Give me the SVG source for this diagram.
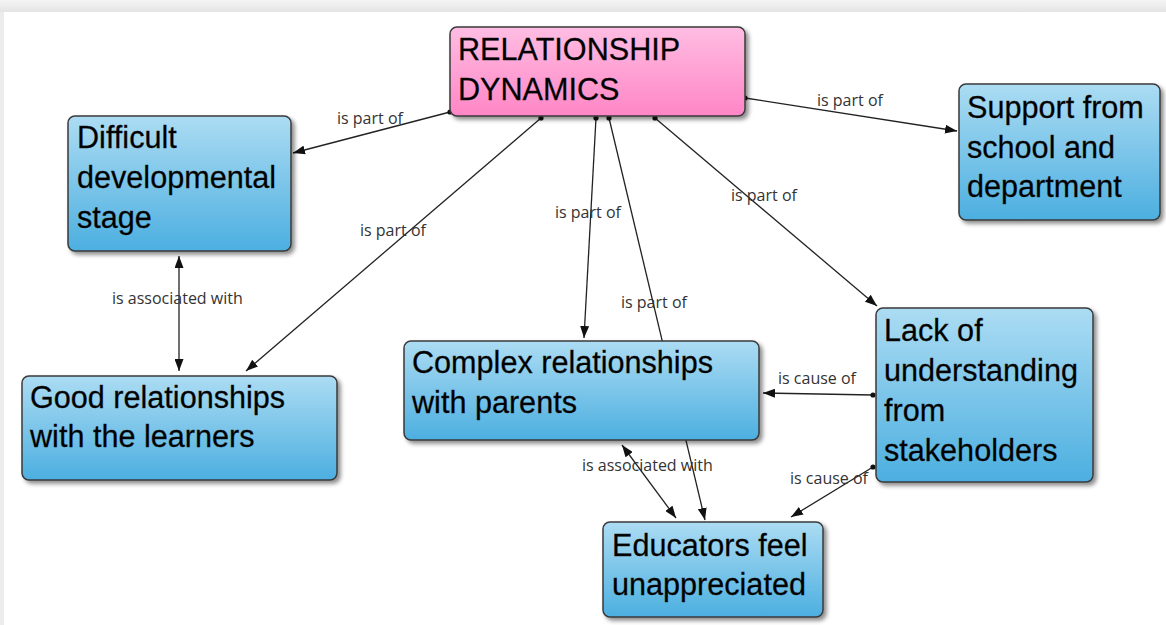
<svg xmlns="http://www.w3.org/2000/svg" width="1166" height="625" viewBox="0 0 1166 625">
  <defs>
    <linearGradient id="gBlue" x1="0" y1="0" x2="0" y2="1">
      <stop offset="0" stop-color="#acdcf3"/>
      <stop offset="1" stop-color="#4cafe0"/>
    </linearGradient>
    <linearGradient id="gPink" x1="0" y1="0" x2="0" y2="1">
      <stop offset="0" stop-color="#ffbde2"/>
      <stop offset="1" stop-color="#ff86c6"/>
    </linearGradient>
    <linearGradient id="gTop" x1="0" y1="0" x2="0" y2="1">
      <stop offset="0" stop-color="#f4f4f4"/>
      <stop offset="1" stop-color="#e4e4e4"/>
    </linearGradient>
    <filter id="shadow" x="-10%" y="-10%" width="130%" height="130%">
      <feDropShadow dx="3" dy="3" stdDeviation="2" flood-color="#000" flood-opacity="0.45"/>
    </filter>
    <marker id="arrow" viewBox="0 0 12 9" refX="12" refY="4.5" markerWidth="12" markerHeight="9" markerUnits="userSpaceOnUse" orient="auto-start-reverse">
      <path d="M0,0 L12,4.5 L0,9 z" fill="#111"/>
    </marker>
    <marker id="dot" viewBox="0 0 6 6" refX="3" refY="3" markerWidth="6" markerHeight="6" markerUnits="userSpaceOnUse">
      <circle cx="3" cy="3" r="2.6" fill="#111"/>
    </marker>
  </defs>
  <style>
    .box { stroke: #3a3a3a; stroke-width: 1.5; filter: url(#shadow); }
    .blue { fill: url(#gBlue); }
    .pink { fill: url(#gPink); }
    .txt { font-family: "Liberation Sans", Arial, sans-serif; font-size: 30.6px; fill: #000; stroke: #1a1a1a; stroke-width: 0.3; }
    .lbl { font-family: "Open Sans", "Noto Sans", sans-serif; font-size: 16px; fill: #333; }
    .edge { stroke: #222; stroke-width: 1.3; fill: none; }
    .src { marker-start: url(#dot); marker-end: url(#arrow); }
    .bi { marker-start: url(#arrow); marker-end: url(#arrow); }
  </style>

  <rect x="0" y="0" width="1166" height="625" fill="#ffffff"/>
  <rect x="0" y="0" width="1166" height="12" fill="url(#gTop)"/>
  <rect x="0" y="12" width="4" height="613" fill="#ececec"/>

  <g id="connectors">
    <line class="edge src" x1="450" y1="112" x2="293" y2="153"/>
    <line class="edge src" x1="745" y1="98" x2="957" y2="131"/>
    <line class="edge src" x1="541" y1="118" x2="246" y2="371"/>
    <line class="edge src" x1="596" y1="118" x2="584" y2="338"/>
    <line class="edge src" x1="609" y1="118" x2="705" y2="520"/>
    <line class="edge src" x1="655" y1="118" x2="877" y2="306"/>
    <line class="edge bi" x1="179" y1="256" x2="179" y2="371"/>
    <line class="edge src" x1="873" y1="395" x2="763" y2="393"/>
    <line class="edge src" x1="873" y1="467" x2="791" y2="517"/>
    <line class="edge bi" x1="622" y1="445" x2="676" y2="518"/>
    <text class="lbl" x="337" y="124">is part of</text>
    <text class="lbl" x="817" y="106">is part of</text>
    <text class="lbl" x="360" y="236">is part of</text>
    <text class="lbl" x="555" y="218">is part of</text>
    <text class="lbl" x="621" y="308">is part of</text>
    <text class="lbl" x="731" y="201">is part of</text>
    <text class="lbl" x="112" y="304">is associated with</text>
    <text class="lbl" x="778" y="384">is cause of</text>
    <text class="lbl" x="790" y="484">is cause of</text>
    <text class="lbl" x="582" y="471">is associated with</text>
  </g>

  <g id="node-relationship-dynamics">
    <rect class="box pink" x="450" y="27" width="295" height="89" rx="7"/>
    <text class="txt" x="458" y="60">RELATIONSHIP</text>
    <text class="txt" x="458" y="100">DYNAMICS</text>
  </g>
  <g id="node-difficult">
    <rect class="box blue" x="68" y="116" width="223" height="135" rx="7"/>
    <text class="txt" x="77" y="148">Difficult</text>
    <text class="txt" x="77" y="188">developmental</text>
    <text class="txt" x="77" y="228">stage</text>
  </g>
  <g id="node-support">
    <rect class="box blue" x="959" y="84" width="201" height="136" rx="7"/>
    <text class="txt" x="967" y="118">Support from</text>
    <text class="txt" x="967" y="158">school and</text>
    <text class="txt" x="967" y="197">department</text>
  </g>
  <g id="node-good">
    <rect class="box blue" x="22" y="376" width="315" height="104" rx="7"/>
    <text class="txt" x="30" y="408">Good relationships</text>
    <text class="txt" x="30" y="447">with the learners</text>
  </g>
  <g id="node-complex">
    <rect class="box blue" x="404" y="341" width="355" height="99" rx="7"/>
    <text class="txt" x="412" y="373">Complex relationships</text>
    <text class="txt" x="412" y="413">with parents</text>
  </g>
  <g id="node-lack">
    <rect class="box blue" x="876" y="308" width="217" height="174" rx="7"/>
    <text class="txt" x="884" y="341">Lack of</text>
    <text class="txt" x="884" y="381">understanding</text>
    <text class="txt" x="884" y="421">from</text>
    <text class="txt" x="884" y="461">stakeholders</text>
  </g>
  <g id="node-educators">
    <rect class="box blue" x="603" y="522" width="220" height="95" rx="7"/>
    <text class="txt" x="612" y="556">Educators feel</text>
    <text class="txt" x="612" y="595">unappreciated</text>
  </g>
</svg>
